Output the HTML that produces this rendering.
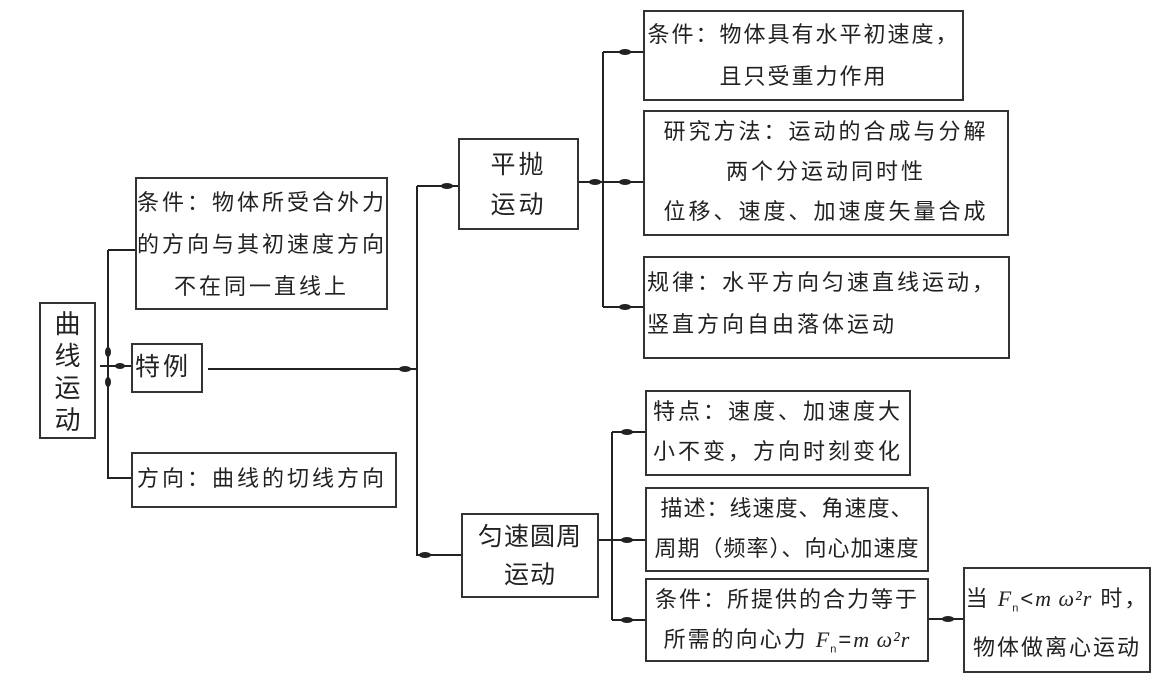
<!DOCTYPE html>
<html><head><meta charset="utf-8"><style>
body{margin:0;width:1160px;height:684px;background:#fff;position:relative;overflow:hidden;font-family:"Liberation Sans","Noto Sans CJK SC",sans-serif;color:#222}
.b{position:absolute;border:2px solid #333;box-sizing:border-box;font-size:22px;letter-spacing:3px;line-height:42px;text-align:center;white-space:nowrap}
.l{text-align:left;padding-left:2px}
svg{position:absolute;left:0;top:0}
i{font-family:"Liberation Serif",serif;font-style:italic;letter-spacing:1px}
sub{font-size:11px}
</style></head><body>
<svg width="1160" height="684" fill="none" stroke="#222" stroke-width="2">
<path d="M108 250H135M108 250V478H131M100 366H131"/>
<path d="M208 369H417M417 186V555H461M417 186H458"/>
<path d="M579 182H643M603 52V307M603 52H643M603 307H643"/>
<path d="M599 540H646M612 432V620M612 432H646M612 620H645M928 619H963"/>
<g fill="#222" stroke="none">
<ellipse cx="108" cy="352" rx="3" ry="5"/><ellipse cx="108" cy="382" rx="3" ry="5"/><ellipse cx="120" cy="366" rx="5" ry="3"/>
<ellipse cx="405" cy="369" rx="6" ry="3"/><ellipse cx="447" cy="186" rx="6" ry="3"/><ellipse cx="425" cy="555" rx="6" ry="3"/>
<ellipse cx="595" cy="182" rx="6" ry="3"/><ellipse cx="625" cy="182" rx="6" ry="3"/><ellipse cx="625" cy="52" rx="6" ry="3"/><ellipse cx="625" cy="307" rx="6" ry="3"/>
<ellipse cx="627" cy="432" rx="6" ry="3"/><ellipse cx="627" cy="540" rx="6" ry="3"/><ellipse cx="627" cy="620" rx="6" ry="3"/><ellipse cx="948" cy="619" rx="6" ry="3"/>
</g></svg>
<div class="b" style="left:39px;top:302px;width:57px;height:137px;font-size:26px;line-height:32px;padding-top:4px;letter-spacing:0">曲<br>线<br>运<br>动</div>
<div class="b" style="left:135px;top:177px;width:253px;height:133px;padding-top:3px">条件：物体所受合外力<br>的方向与其初速度方向<br>不在同一直线上</div>
<div class="b l" style="left:131px;top:343px;width:72px;height:50px;font-size:25px;line-height:44px">特例</div>
<div class="b l" style="left:131px;top:452px;width:266px;height:56px;line-height:50px;padding-left:4px">方向：曲线的切线方向</div>
<div class="b" style="left:458px;top:138px;width:121px;height:92px;font-size:25px;line-height:40px;padding-top:5px">平抛<br>运动</div>
<div class="b" style="left:461px;top:513px;width:138px;height:85px;font-size:25px;line-height:38px;padding-top:3px;letter-spacing:1px">匀速圆周<br>运动</div>
<div class="b" style="left:643px;top:10px;width:321px;height:91px;padding-top:2px;letter-spacing:2px">条件：物体具有水平初速度，<br>且只受重力作用</div>
<div class="b" style="left:643px;top:110px;width:366px;height:126px;line-height:40px">研究方法：运动的合成与分解<br>两个分运动同时性<br>位移、速度、加速度矢量合成</div>
<div class="b l" style="left:643px;top:256px;width:367px;height:103px;padding-top:4px">规律：水平方向匀速直线运动，<br>竖直方向自由落体运动</div>
<div class="b" style="left:645px;top:390px;width:266px;height:86px;line-height:40px">特点：速度、加速度大<br>小不变，方向时刻变化</div>
<div class="b" style="left:645px;top:487px;width:284px;height:85px;line-height:40px;letter-spacing:1px">描述：线速度、角速度、<br>周期（频率）、向心加速度</div>
<div class="b" style="left:645px;top:578px;width:284px;height:84px;line-height:40px;letter-spacing:2px">条件：所提供的合力等于<br>所需的向心力 <i>F</i><sub>n</sub>=<i>m ω²r</i></div>
<div class="b" style="left:963px;top:567px;width:188px;height:106px;line-height:40px;padding-top:10px;letter-spacing:2px">当 <i>F</i><sub>n</sub>&lt;<i>m ω²r</i> 时，<br>物体做离心运动</div>
</body></html>
